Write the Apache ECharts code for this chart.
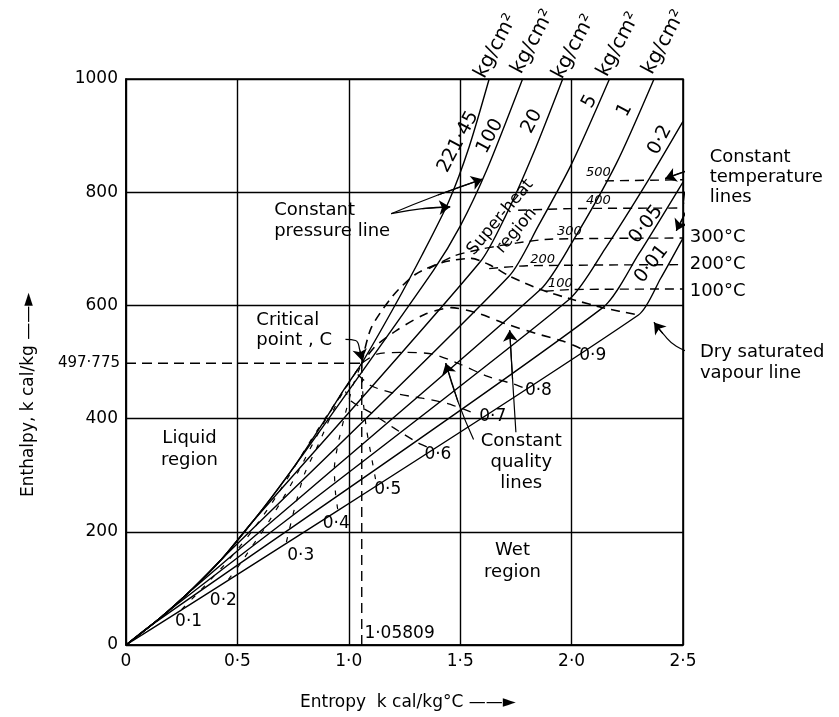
<!DOCTYPE html>
<html><head><meta charset="utf-8">
<script src="https://cdn.jsdelivr.net/npm/echarts@6/dist/echarts.min.js"></script>
<style>html,body{margin:0;padding:0;background:#fff}#c{width:839px;height:717px}</style>
</head><body><div id="c"></div>
<script>
// ---------- axis ticks ----------
const xTicks = [0, 0.5, 1.0, 1.5, 2.0, 2.5];
const yTicks = [0, 200, 400, 600, 800, 1000];
const critS = 1.05809, critH = 497.775;

// ---------- constant pressure lines (kg/cm2): [entropy, enthalpy] ----------
const p221 = [[0,0],[0.16,50],[0.3,100],[0.43,152],[0.54,204],[0.65,259],[0.765,321],[0.895,399],[0.978,451],[1.058,497.8],[1.2,595],[1.33,690],[1.45,785],[1.54,880],[1.63,1000]];
const p100 = [[0,0],[0.16,50],[0.3,100],[0.43,152],[0.54,204],[0.65,259],[0.79,334],[1.38,662],[1.5,740],[1.62,840],[1.78,1000]];
const p20  = [[0,0],[0.16,50],[0.3,100],[0.43,152],[0.562,215],[1.59,677],[1.7,755],[1.83,870],[1.96,1000]];
const p5   = [[0,0],[0.16,50],[0.3,100],[0.43,152],[1.72,652],[1.85,740],[2.0,850],[2.17,1000]];
const p1   = [[0,0],[0.16,50],[0.3,99],[1.86,628],[2.0,710],[2.2,850],[2.37,1000]];
const p02  = [[0,0],[0.16,50],[0.19,60],[1.99,611],[2.15,700],[2.35,825],[2.5,925]];
const p005 = [[0,0],[0.103,32],[2.14,596],[2.3,690],[2.5,818]];
const p001 = [[0,0],[2.3,583],[2.4,648],[2.5,719]];

// ---------- dry saturated vapour line ----------
const satVapour = [[1.058,497.8],[1.1,560],[1.2,618],[1.3,655],[1.42,676],[1.55,683],[1.64,670],[1.72,652],[1.86,628],[2.0,611],[2.14,596],[2.3,583]];

// ---------- constant quality lines ----------
const q01 = [[0.25,63],[0.313,88],[0.379,115],[0.465,152],[0.567,202],[0.672,261],[0.84,368],[1.058,497.8]];
const q02 = [[0.46,116],[0.516,145],[0.558,170],[0.62,205],[0.694,252],[0.774,307],[0.9,401],[1.058,497.8]];
const q03 = [[0.72,182],[0.755,239],[0.80,301],[0.863,354],[0.95,430],[1.058,497.8]];
const q04 = [[0.95,240],[0.94,270],[0.935,311],[0.95,352],[0.978,399],[1.02,460],[1.058,497.8]];
const q05 = [[1.12,293],[1.1,336],[1.08,380],[1.065,430],[1.058,497.8]];
const q06 = [[1.35,350],[1.311,357],[1.2,384],[1.1,410],[1.01,431],[0.985,448]];
const q07 = [[1.547,412],[1.44,427],[1.33,436],[1.2,445],[1.1,458],[1.04,478]];
const q08 = [[1.78,455],[1.74,461],[1.62,475],[1.5,496],[1.377,514],[1.25,517],[1.127,514],[1.058,497.8]];
const q09 = [[2.04,524],[1.96,537],[1.843,550],[1.708,567],[1.58,586],[1.46,596],[1.34,584],[1.215,556],[1.12,528],[1.058,497.8]];

// ---------- constant temperature lines (deg C) ----------
const t500 = [[2.15,820],[2.5,822]];
const t400 = [[1.76,768],[2.0,771],[2.5,772]];
const t300 = [[1.36,665],[1.47,687],[1.6,700],[1.75,710],[1.9,717],[2.5,719]];
const t200 = [[1.63,665],[1.8,670],[2.5,672]];
const t100 = [[1.88,625],[2.0,628],[2.5,629]];

// ---------- critical point guides ----------
const critV = [[critS,0],[critS,critH]];
const critHline = [[0,critH],[critS,critH]];

// ---------- text ----------
const pressureNames = ['221·45','100','20','5','1','0·2','0·05','0·01'];
const pressureLabelPos = [[1.491,889],[1.634,899],[1.822,925],[2.081,960],[2.238,945],[2.397,892],[2.334,743],[2.359,673]];
const unitLabelPos = [[1.66,1058],[1.826,1066],[2.01,1057],[2.21,1061],[2.414,1065]];
const qualityNames = ['0·1','0·2','0·3','0·4','0·5','0·6','0·7','0·8','0·9'];
const qualityLabelPos = [[0.281,42],[0.437,78],[0.784,158],[0.944,215],[1.175,275],[1.40,336],[1.646,403],[1.851,449],[2.095,512]];
const tempNames = ['500','400','300','200','100'];
const tempLabelPos = [[2.12,834],[2.12,785],[1.99,730],[1.87,681],[1.95,638]];
const tempRightNames = ['300°C','200°C','100°C'];
const tempRightPos = [[2.53,721],[2.53,672],[2.53,624]];

// ---------- pointer arrows (tail ... head) ----------
const arrowPaths = [
  [[0.985,540],[1.03,538],[1.05,520],[1.058,503]],
  [[1.19,762],[1.33,771],[1.455,774]],
  [[1.19,762],[1.40,795],[1.60,823]],
  [[2.60,846],[2.52,838],[2.42,824]],
  [[2.60,846],[2.55,812],[2.51,780]],
  [[2.59,842],[2.53,780],[2.47,732]],
  [[2.566,513],[2.47,528],[2.41,550],[2.37,570]],
  [[1.56,363],[1.49,430],[1.435,498]],
  [[1.75,376],[1.735,470],[1.722,556]]
];

const FONT = '"DejaVu Sans"';
const chart = echarts.init(document.getElementById('c'));

function curve(data, opt) {
  opt = opt || {};
  return {
    type: 'line', data: data, showSymbol: false, symbol: 'none', silent: true,
    smooth: opt.smooth === undefined ? 0.25 : opt.smooth,
    lineStyle: { color: '#000', width: opt.width || 1.4, type: opt.dash || 'solid' },
    z: opt.z || 3, animation: false
  };
}

const dashQ = [5, 9];
const series = [
  curve(p221), curve(p100), curve(p20), curve(p5), curve(p1), curve(p02), curve(p005), curve(p001),
  curve(satVapour, {dash: [9,6], width: 1.6}),
  curve(q01, {dash: dashQ, width: 1.2}), curve(q02, {dash: dashQ, width: 1.2}), curve(q03, {dash: dashQ, width: 1.2}),
  curve(q04, {dash: dashQ, width: 1.2}), curve(q05, {dash: dashQ, width: 1.2}),
  curve(q06, {dash: [9,7], width: 1.3}), curve(q07, {dash: [9,7], width: 1.3}), curve(q08, {dash: [9,7], width: 1.3}), curve(q09, {dash: [9,7], width: 1.6}),
  curve(t500, {dash: [9,6]}), curve(t400, {dash: [9,6]}), curve(t300, {dash: [9,6]}), curve(t200, {dash: [9,6]}), curve(t100, {dash: [9,6]}),
  curve(critV, {dash: [10,6], smooth: false}), curve(critHline, {dash: [10,6], smooth: false})
];
// arrow bodies
arrowPaths.forEach(a => series.push(Object.assign(curve(a, {width: 1.2, smooth: 0.5, z: 5}), { clip: false })));
// arrow heads
series.push({
  type: 'lines', coordinateSystem: 'cartesian2d', silent: true, animation: false,
  symbol: ['none', 'arrow'], symbolSize: [7, 11],
  lineStyle: { color: '#000', width: 1.2, opacity: 1, curveness: 0 },
  itemStyle: { color: '#000' },
  data: arrowPaths.map(a => ({ coords: [a[a.length - 2], a[a.length - 1]] })), z: 6
});

function fmtX(v) { return v === 0 ? '0' : v.toFixed(1).replace('.', '·'); }

chart.setOption({
  animation: false,
  backgroundColor: '#fff',
  grid: { left: 126, top: 79, width: 557, height: 566, show: true, borderColor: '#000', borderWidth: 1.6, backgroundColor: 'transparent' },
  xAxis: {
    type: 'value', min: 0, max: 2.5, interval: 0.5,
    axisLine: { show: true, lineStyle: { color: '#000', width: 1.6 } },
    axisTick: { show: false },
    axisLabel: { color: '#000', fontSize: 17, fontFamily: 'DejaVu Sans', margin: 8, formatter: fmtX },
    splitLine: { show: true, lineStyle: { color: '#000', width: 1.4 } }
  },
  yAxis: {
    type: 'value', min: 0, max: 1000, interval: 200,
    axisLine: { show: true, lineStyle: { color: '#000', width: 1.6 } },
    axisTick: { show: false },
    axisLabel: { color: '#000', fontSize: 17, fontFamily: 'DejaVu Sans', margin: 8, formatter: v => String(v) },
    splitLine: { show: true, lineStyle: { color: '#000', width: 1.4 } }
  },
  series: series
});

// ---------- text placed through the axes ----------
const G = [];
function px(p) { return chart.convertToPixel({ xAxisIndex: 0, yAxisIndex: 0 }, p); }
function T(pos, text, o) {
  o = o || {};
  const q = px(pos);
  G.push({
    type: 'text', x: q[0] + (o.dx || 0), y: q[1] + (o.dy || 0), rotation: (o.rotate || 0) * Math.PI / 180, z: 10, silent: true,
    style: {
      text: text, fill: '#000', font: (o.style || 'normal') + ' ' + (o.size || 18) + 'px ' + FONT,
      align: o.align || 'center', verticalAlign: o.va || 'middle', lineHeight: o.lh || 21
    }
  });
}
pressureNames.forEach((n, i) => T(pressureLabelPos[i], n, { rotate: i < 6 ? 62 : 52, size: 19 }));
unitLabelPos.forEach(p => T(p, 'kg/cm²', { rotate: 62, size: 20 }));
qualityNames.forEach((n, i) => T(qualityLabelPos[i], n, { size: 17 }));
tempNames.forEach((n, i) => T(tempLabelPos[i], n, { size: 13, style: 'italic' }));
tempRightNames.forEach((n, i) => T(tempRightPos[i], n, { size: 18, align: 'left' }));
T([0.285,346], 'Liquid\nregion', { lh: 22 });
T([1.735,147], 'Wet\nregion', { lh: 22 });
T([0.585,556], 'Critical\npoint , C', { align: 'left', lh: 20 });
T([0.665,750], 'Constant\npressure line', { align: 'left', lh: 21 });
T([1.716,744], 'Super-heat\nregion', { rotate: 50, lh: 21, size: 17 });
T([2.62,826], 'Constant\ntemperature\nlines', { align: 'left', lh: 20 });
T([2.576,499], 'Dry saturated\nvapour line', { align: 'left', lh: 21 });
T([1.774,322], 'Constant\nquality\nlines', { lh: 21 });
T([1.07,20], '1·05809', { align: 'left', size: 17 });
T([0,critH], '497·775', { align: 'right', size: 15, dx: -6 });

G.push({ type: 'text', x: 300, y: 703, silent: true,
  style: { text: 'Entropy  k cal/kg°C ——►', fill: '#000', font: '17px ' + FONT, align: 'left', verticalAlign: 'middle' } });
G.push({ type: 'text', x: 29, y: 497, rotation: Math.PI / 2, silent: true,
  style: { text: 'Enthalpy, k cal/kg ——►', fill: '#000', font: '17px ' + FONT, align: 'left', verticalAlign: 'middle' } });

chart.setOption({ graphic: G });
</script>
</body></html>
